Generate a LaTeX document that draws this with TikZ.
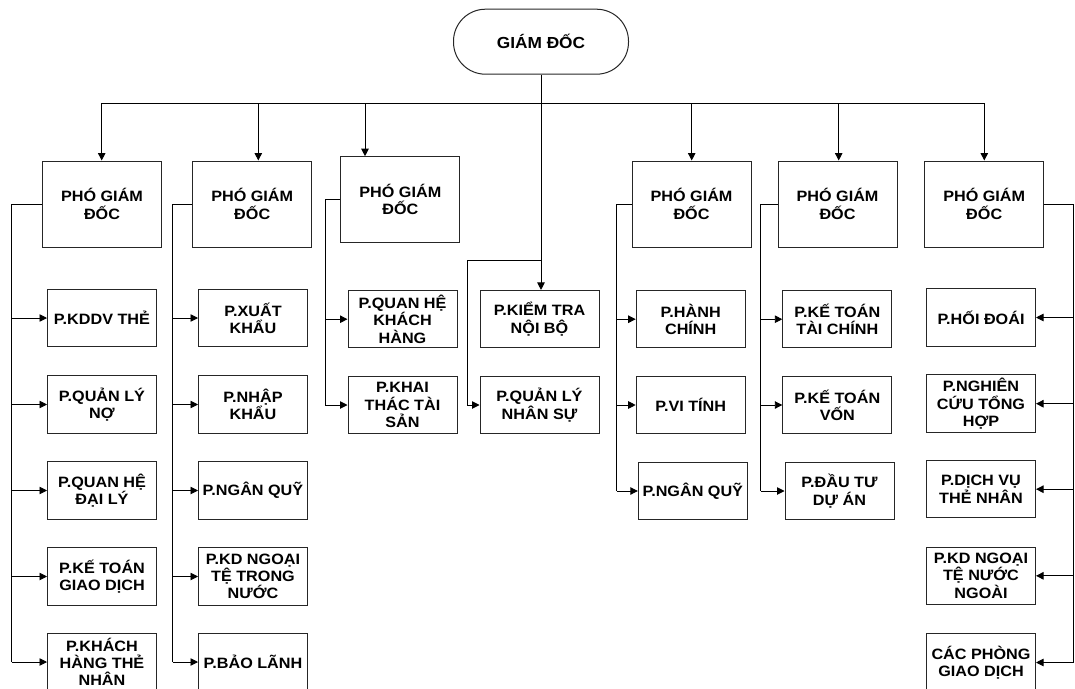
\documentclass[tikz,border=0pt]{standalone}
\usepackage{fontspec}
\setmainfont{Liberation Sans}[FakeStretch=1.08]
\usetikzlibrary{arrows.meta}
\begin{document}
\begin{tikzpicture}[x=1pt,y=-1pt,
  box/.style={draw=black!85, line width=1pt, rectangle, inner sep=0pt, align=center,
    font=\bfseries\fontsize{15}{17.3}\selectfont, minimum width=109pt, minimum height=57.5pt},
  vpbox/.style={box, minimum width=119pt, minimum height=86pt},
  stadium/.style={draw=black!85, line width=1pt, rectangle, rounded corners=32pt, inner sep=0pt,
    font=\bfseries\fontsize{16}{18}\selectfont, minimum width=175pt, minimum height=65pt},
  ln/.style={draw=black, line width=0.9pt},
  arr/.style={ln, -{Triangle[length=7.5pt,width=7.5pt]}}]
\useasboundingbox (0,0) rectangle (1075,688);

% director
\node[stadium] (gd) at (541,41.7) {GIÁM ĐỐC};

% vice directors
\node[vpbox] (vp1) at (102,204) {PHÓ GIÁM\\ĐỐC};
\node[vpbox] (vp2) at (252.2,204) {PHÓ GIÁM\\ĐỐC};
\node[vpbox] (vp3) at (400.3,199.7) {PHÓ GIÁM\\ĐỐC};
\node[vpbox] (vp4) at (691.5,204) {PHÓ GIÁM\\ĐỐC};
\node[vpbox] (vp5) at (837.5,204) {PHÓ GIÁM\\ĐỐC};
\node[vpbox] (vp6) at (984.2,204) {PHÓ GIÁM\\ĐỐC};

% column 1
\node[box] (c11) at (102,318) {P.KDDV THẺ};
\node[box] (c12) at (102,404.5) {P.QUẢN LÝ\\NỢ};
\node[box] (c13) at (102,490.5) {P.QUAN HỆ\\ĐẠI LÝ};
\node[box] (c14) at (102,576.5) {P.KẾ TOÁN\\GIAO DỊCH};
\node[box] (c15) at (102,662) {P.KHÁCH\\HÀNG THẺ\\NHÂN};

% column 2
\node[box] (c21) at (253,318) {P.XUẤT\\KHẨU};
\node[box] (c22) at (253,404.5) {P.NHẬP\\KHẨU};
\node[box] (c23) at (253,490.5) {P.NGÂN QUỸ};
\node[box] (c24) at (253,576.5) {P.KD NGOẠI\\TỆ TRONG\\NƯỚC};
\node[box] (c25) at (253,662) {P.BẢO LÃNH};

% column 3
\node[box] (c31) at (402.5,319.2) {P.QUAN HỆ\\KHÁCH\\HÀNG};
\node[box] (c32) at (402.5,405) {P.KHAI\\THÁC TÀI\\SẢN};

% centre column
\node[box, minimum width=119pt] (kt) at (539.5,319.2) {P.KIỂM TRA\\NỘI BỘ};
\node[box, minimum width=119pt] (ns) at (539.5,405) {P.QUẢN LÝ\\NHÂN SỰ};

% column 4
\node[box] (c41) at (690.7,319.2) {P.HÀNH\\CHÍNH};
\node[box] (c42) at (690.7,405) {P.VI TÍNH};
\node[box] (c43) at (692.8,491) {P.NGÂN QUỸ};

% column 5
\node[box] (c51) at (837.3,319.2) {P.KẾ TOÁN\\TÀI CHÍNH};
\node[box] (c52) at (837.3,405) {P.KẾ TOÁN\\VỐN};
\node[box] (c53) at (839.5,491) {P.ĐẦU TƯ\\DỰ ÁN};

% column 6
\node[box] (c61) at (981,317.5) {P.HỐI ĐOÁI};
\node[box] (c62) at (981,403.7) {P.NGHIÊN\\CỨU TỔNG\\HỢP};
\node[box] (c63) at (981,489.2) {P.DỊCH VỤ\\THẺ NHÂN};
\node[box] (c64) at (981,575.8) {P.KD NGOẠI\\TỆ NƯỚC\\NGOÀI};
\node[box] (c65) at (981,662.5) {CÁC PHÒNG\\GIAO DỊCH};

% bus
\coordinate (b1) at (101.7,103.3);
\coordinate (b2) at (258.3,103.3);
\coordinate (b3) at (365,103.3);
\coordinate (b4) at (691.7,103.3);
\coordinate (b5) at (838.7,103.3);
\coordinate (b6) at (984.3,103.3);
\draw[ln] (b1) -- (b6);
\draw[arr] (gd.south) -- (gd.south |- kt.north);
\draw[arr] (b1) -- (b1 |- vp1.north);
\draw[arr] (b2) -- (b2 |- vp2.north);
\draw[arr] (b3) -- (b3 |- vp3.north);
\draw[arr] (b4) -- (b4 |- vp4.north);
\draw[arr] (b5) -- (b5 |- vp5.north);
\draw[arr] (b6) -- (b6 |- vp6.north);

% spines
\coordinate (s1) at (11.7,0);
\coordinate (s2) at (172.7,0);
\coordinate (s3) at (325,0);
\coordinate (s4) at (616.5,0);
\coordinate (s5) at (760.5,0);
\coordinate (s6) at (1073.5,0);

\draw[ln] (vp1.west) -- (vp1.west -| s1) -- (s1 |- c15.west);
\foreach \n in {c11,c12,c13,c14,c15} \draw[arr] (s1 |- \n.west) -- (\n.west);
\draw[ln] (vp2.west) -- (vp2.west -| s2) -- (s2 |- c25.west);
\foreach \n in {c21,c22,c23,c24,c25} \draw[arr] (s2 |- \n.west) -- (\n.west);
\draw[ln] (vp3.west) -- (vp3.west -| s3) -- (s3 |- c32.west);
\foreach \n in {c31,c32} \draw[arr] (s3 |- \n.west) -- (\n.west);
\draw[ln] (vp4.west) -- (vp4.west -| s4) -- (s4 |- c43.west);
\foreach \n in {c41,c42,c43} \draw[arr] (s4 |- \n.west) -- (\n.west);
\draw[ln] (vp5.west) -- (vp5.west -| s5) -- (s5 |- c53.west);
\foreach \n in {c51,c52,c53} \draw[arr] (s5 |- \n.west) -- (\n.west);
\draw[ln] (vp6.east) -- (vp6.east -| s6) -- (s6 |- c65.east);
\foreach \n in {c61,c62,c63,c64,c65} \draw[arr] (s6 |- \n.east) -- (\n.east);

% branch to personnel
\coordinate (br) at (541,260.7);
\coordinate (bx) at (467.3,260.7);
\draw[arr] (br) -- (bx) |- (ns.west);
\end{tikzpicture}
\end{document}
